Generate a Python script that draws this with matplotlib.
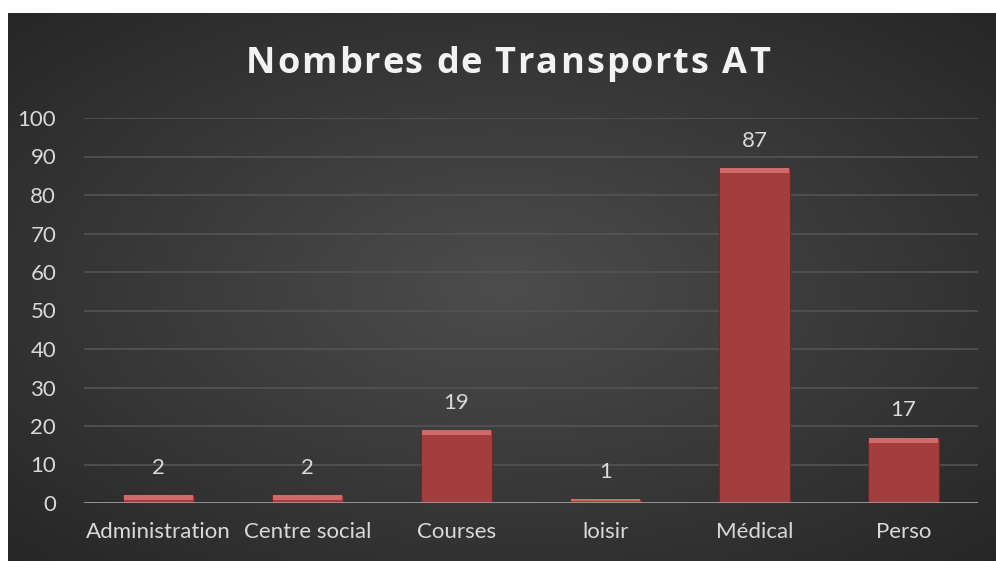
import numpy as np
import matplotlib.pyplot as plt

categories = ["Administration", "Centre social", "Courses", "loisir", "Médical", "Perso"]
values = [2, 2, 19, 1, 87, 17]
yticks = [0, 10, 20, 30, 40, 50, 60, 70, 80, 90, 100]
title = "Nombres de Transports AT"

plt.rcParams['font.family'] = ['Lato', 'DejaVu Sans']

fig = plt.figure(figsize=(9.96, 5.61), dpi=100, facecolor='white')

# dark radial gradient background (chart area has white margin top/left)
bg = fig.add_axes([8/996, 0, 988/996, 548/561])
bg.set_axis_off()
yy, xx = np.mgrid[-1:1:300j, -1:1:500j]
r = np.sqrt(xx**2 + yy**2) / np.sqrt(2)
shade = 0.30 - 0.15 * r
bg.imshow(np.dstack([shade, shade, shade]), aspect='auto', extent=[0, 1, 0, 1])

ax = fig.add_axes([84/996, 58/561, 894/996, 385/561])
ax.set_facecolor('none')
x = np.arange(len(categories))
ax.bar(x, values, width=0.48, color='#a23e3e', edgecolor='#6e2626', linewidth=0.8, zorder=3)
# light bevel on top of each bar
top = np.minimum(np.array(values) * 0.6, 1.4)
ax.bar(x, top, width=0.46, bottom=np.array(values) - top,
       color='#d06a6a', linewidth=0, zorder=4)

for xi, v in zip(x, values):
    ax.text(xi, v + 4.5, str(v), ha='center', va='bottom', color='#d9d9d9', fontsize=16)

ax.set_xlim(-0.5, len(categories) - 0.5)
ax.set_ylim(0, 100)
ax.set_yticks(yticks)
ax.set_xticks(x)
ax.set_xticklabels(categories)
ax.tick_params(axis='both', length=0, colors='#d9d9d9', labelsize=16)
ax.tick_params(axis='y', pad=20)
ax.tick_params(axis='x', pad=14)
ax.grid(axis='y', color='#545454', linewidth=1.2, zorder=0)
for s in ax.spines.values():
    s.set_visible(False)
ax.axhline(0, color='#9a9a9a', linewidth=2, zorder=5)

# title with letter spacing, drawn char by char
tkw = dict(color='#f2f2f2', fontsize=26, fontweight='bold', family=['Open Sans', 'DejaVu Sans'])
renderer = fig.canvas.get_renderer()

def text_w(s):
    t = fig.text(0, 0, s, **tkw)
    w = t.get_window_extent(renderer).width
    t.remove()
    return w

ref_w = text_w("xx")
advances = [text_w("x" + c + "x") - ref_w for c in title]
spacing = 2.3
total = sum(advances) + spacing * (len(title) - 1)
cx = 508 - total / 2
for c, adv in zip(title, advances):
    if c != " ":
        fig.text(cx / 996, 1 - 73/561, c, ha='left', va='baseline', **tkw)
    cx += adv + spacing

fig.savefig('out.png', dpi=100, facecolor='white')
